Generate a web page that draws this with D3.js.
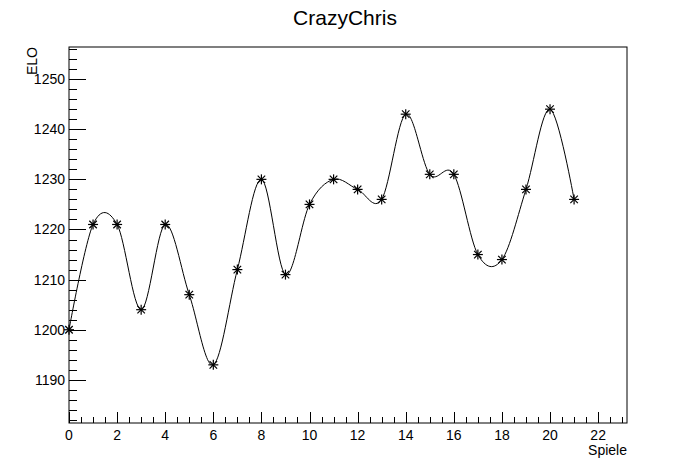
<!DOCTYPE html>
<html><head><meta charset="utf-8">
<script src="https://cdn.jsdelivr.net/npm/d3@7"></script>
<style>body{margin:0;background:#fff}svg{display:block}text{font-family:"Liberation Sans",Arial,sans-serif}</style>
</head><body><svg id="c" width="696" height="472"></svg>
<script>
const games = [0,1,2,3,4,5,6,7,8,9,10,11,12,13,14,15,16,17,18,19,20,21];
const elo = [1200,1221,1221,1204,1221,1207,1193,1212,1230,1211,1225,1230,1228,1226,1243,1231,1231,1215,1214,1228,1244,1226];
const xTicks = [0,2,4,6,8,10,12,14,16,18,20,22];
const yTicks = [1190,1200,1210,1220,1230,1240,1250];
const title = "CrazyChris", xTitle = "Spiele", yTitle = "ELO";

const svg = d3.select("#c");
const L=69,R=627,T=47,B=423;
const x = d3.scaleLinear().domain([0,23.2]).range([L,R]);
const y = d3.scaleLinear().domain([1181.4,1256.4]).range([B,T]);

svg.append("rect").attr("x",L).attr("y",T).attr("width",R-L).attr("height",B-T).attr("fill","none").attr("stroke","#000").attr("stroke-width",1);

const xg = svg.append("g");
d3.range(0,23.21,0.5).forEach(v=>{
  const major = Math.abs(v%2)<1e-9;
  const px = Math.round(x(v))+0.5;
  xg.append("line").attr("x1",px).attr("x2",px).attr("y1",B).attr("y2",B-(major?11:6)).attr("stroke","#000");
});
xTicks.forEach(v=>{
  xg.append("text").attr("x",x(v)).attr("y",440).attr("text-anchor","middle").attr("font-size",14).text(v);
});
const yg = svg.append("g");
d3.range(1182,1256.5,2).forEach(v=>{
  const major = v%10===0;
  const py = Math.round(y(v))+0.5;
  yg.append("line").attr("x1",L).attr("x2",L+(major?17:8)).attr("y1",py).attr("y2",py).attr("stroke","#000");
});
yTicks.forEach(v=>{
  yg.append("text").attr("x",65).attr("y",y(v)).attr("dy","0.35em").attr("text-anchor","end").attr("font-size",14).text(v);
});

svg.append("text").attr("x",345).attr("y",25).attr("text-anchor","middle").attr("font-size",21).text(title);
svg.append("text").attr("x",627).attr("y",455).attr("text-anchor","end").attr("font-size",14).text(xTitle);
svg.append("text").attr("transform","translate(36.5,47) rotate(-90)").attr("text-anchor","end").attr("font-size",14).text(yTitle);

const pts = games.map((g,i)=>[g,elo[i]]);
const line = d3.line().x(d=>x(d[0])).y(d=>y(d[1])).curve(d3.curveCardinal.tension(0));
svg.append("path").attr("d",line(pts)).attr("fill","none").attr("stroke","#000").attr("stroke-width",1);

const s=5;
const mg = svg.append("g").attr("stroke","#000").attr("stroke-width",1.2);
pts.forEach(d=>{
  const cx=x(d[0]), cy=y(d[1]);
  mg.append("line").attr("x1",cx-s).attr("x2",cx+s).attr("y1",cy).attr("y2",cy);
  mg.append("line").attr("x1",cx).attr("x2",cx).attr("y1",cy-s).attr("y2",cy+s);
  mg.append("line").attr("x1",cx-s*0.75).attr("x2",cx+s*0.75).attr("y1",cy-s*0.75).attr("y2",cy+s*0.75);
  mg.append("line").attr("x1",cx-s*0.75).attr("x2",cx+s*0.75).attr("y1",cy+s*0.75).attr("y2",cy-s*0.75);
});
</script></body></html>
